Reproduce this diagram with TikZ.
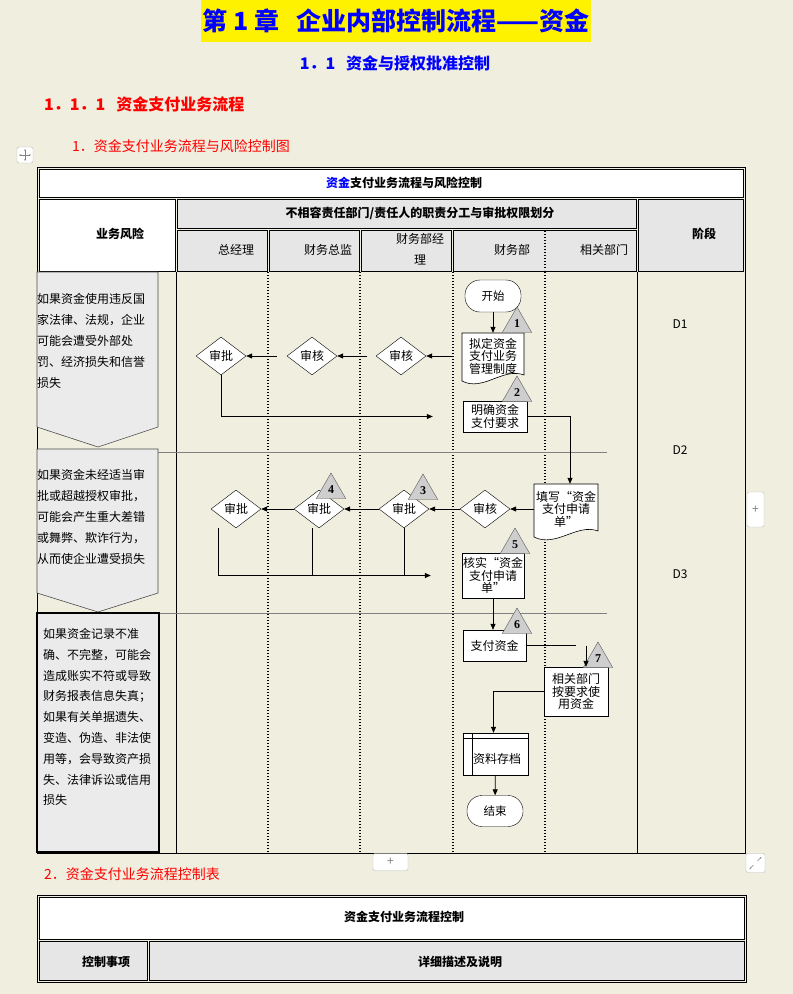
\documentclass[tikz,border=0pt]{standalone}
\usepackage{fontspec}
\setmainfont{Noto Sans CJK SC}
\newfontfamily\numfont{Liberation Serif}
\usepackage{xcolor}
\usepackage{tikz}
\usetikzlibrary{positioning, shapes.geometric, arrows.meta, backgrounds}

\definecolor{paper}{RGB}{239,238,223}
\definecolor{cellgray}{RGB}{230,230,230}
\definecolor{riskgray}{RGB}{235,235,235}
\definecolor{trigray}{RGB}{206,206,206}

\begin{document}
\begin{tikzpicture}[x=1pt, y=-1pt, every node/.style={inner sep=0pt},
    arr/.style={-{Triangle[length=6pt,width=5pt]}, line width=0.7pt},
    lane/.style={line width=1.3pt, dash pattern=on 1.3pt off 1.7pt},
    graycell/.style={draw, line width=0.6pt, fill=cellgray},
    whitecell/.style={draw, line width=0.6pt, fill=white},
    dia/.style={draw, diamond, aspect=1.3, fill=white, minimum width=50pt, minimum height=38pt, font=\fontsize{12}{12}\selectfont},
    procbox/.style={draw, rectangle, fill=white, align=center, font=\fontsize{12}{12.5}\selectfont},
    docbox/.style={rectangle, align=center, font=\fontsize{12}{12.5}\selectfont},
    term/.style={draw, rectangle, rounded corners=15pt, fill=white, minimum width=56pt, minimum height=32pt, font=\fontsize{11.5}{11.5}\selectfont},
    tri/.style={draw=gray!70!black, fill=trigray, regular polygon, regular polygon sides=3, minimum size=34pt, font=\numfont\bfseries\fontsize{12}{12}\selectfont},
    risk/.style={draw=gray!60!black, fill=riskgray, line width=0.6pt},
    risktext/.style={anchor=north west, align=left, font=\fontsize{12}{21}\selectfont},
    hd/.style={font=\bfseries\fontsize{12}{12}\selectfont},
    subhd/.style={font=\fontsize{12}{21}\selectfont, align=center},
    rowline/.style={gray, line width=0.6pt},
    uibtn/.style={draw=gray!55, fill=white, rounded corners=2pt, text=gray, font=\fontsize{12}{12}\selectfont}]

  \useasboundingbox (0,0) rectangle (793,994);
  \fill[paper] (0,0) rectangle (793,994);

  % headings
  \fill[yellow] (201,0) rectangle (591,42);
  \node[text=blue, font=\bfseries\fontsize{25}{25}\selectfont] (chap) at (396,21) {第 1 章\ \ \ 企业内部控制流程——资金};
  \node[text=blue, font=\bfseries\fontsize{16}{16}\selectfont] (sec) at (395,63) {1．1\ \ \ 资金与授权批准控制};
  \node[anchor=west, text=red, font=\bfseries\fontsize{16}{16}\selectfont] (subsec) at (44,104) {1．1．1\ \ \ 资金支付业务流程};
  \node[anchor=west, text=red, font=\fontsize{14}{14}\selectfont] (fig1) at (72,146) {1．资金支付业务流程与风险控制图};
  \node[uibtn, minimum width=16pt, minimum height=16pt] (movebtn) at (25,155) {};
  \draw[gray, {Stealth[length=2pt]}-{Stealth[length=2pt]}, line width=0.4pt] ([xshift=-6pt]movebtn.center) -- ([xshift=6pt]movebtn.center);
  \draw[gray, {Stealth[length=2pt]}-{Stealth[length=2pt]}, line width=0.4pt] ([yshift=-6pt]movebtn.center) -- ([yshift=6pt]movebtn.center);

  % table frame and header
  \draw[line width=0.8pt] (37,167) rectangle (745,853);
  \draw[whitecell] (39,169) rectangle (743,197);
  \node[hd] (ttl) at (404,183) {\textcolor{blue}{资金}支付业务流程与风险控制};
  \draw[whitecell] (39,199) rectangle (175,271);
  \draw[graycell] (177,199) rectangle (636,228);
  \draw[graycell] (177,230) rectangle (267,271);
  \draw[graycell] (269,230) rectangle (359,271);
  \draw[graycell] (361,230) rectangle (451,271);
  \draw[graycell] (453,230) rectangle (636,271);
  \draw[graycell] (638,199) rectangle (743,271);
  \draw[lane] (545,231) -- (545,270);
  \node[hd] (risk) at (120,234) {业务风险};
  \node[hd] (duty) at (420,213) {不相容责任部门/责任人的职责分工与审批权限划分};
  \node[hd] (phase) at (704,234) {阶段};
  \node[subhd] (gm) at (236,250) {总经理};
  \node[subhd] (cfo) at (328,250) {财务总监};
  \node[subhd] (fm) at (420,249.5) {财务部经\\理};
  \node[subhd] (fd) at (512,250) {财务部};
  \node[subhd] (rd) at (604,250) {相关部门};

  % lanes
  \draw[line width=0.7pt] (176,272) -- (176,853);
  \draw[line width=0.7pt] (637,272) -- (637,853);
  \foreach \x in {268,360,453,545}
    \draw[lane] (\x,272) -- (\x,853);
  \draw[rowline] (158,452) -- (607,452);
  \draw[rowline] (159,613) -- (607,613);

  % risks
  \draw[risk] (37,272) -- (158,272) -- (158,427) -- (98,447) -- (37,427) -- cycle;
  \draw[risk] (37,449) -- (158,449) -- (158,593) -- (98,612) -- (37,593) -- cycle;
  \draw[fill=riskgray, line width=1.2pt] (37,613) rectangle (159,852);
  \node[risktext] (r1) at (37,293) {如果资金使用违反国\\家法律、法规，企业\\可能会遭受外部处\\罚、经济损失和信誉\\损失};
  \node[risktext] (r2) at (37,469) {如果资金未经适当审\\批或超越授权审批，\\可能会产生重大差错\\或舞弊、欺诈行为，\\从而使企业遭受损失};
  \node[risktext, font=\fontsize{12}{20.8}\selectfont] (r3) at (43,628) {如果资金记录不准\\确、不完整，可能会\\造成账实不符或导致\\财务报表信息失真；\\如果有关单据遗失、\\变造、伪造、非法使\\用等，会导致资产损\\失、法律诉讼或信用\\损失};

  % phases
  \node[font=\fontsize{12}{12}\selectfont] (d1) at (680,324) {D1};
  \node[font=\fontsize{12}{12}\selectfont] (d2) at (680,450) {D2};
  \node[font=\fontsize{12}{12}\selectfont] (d3) at (680,574) {D3};

  % flow D1
  \node[term] (start) at (493,296) {开始};
  \draw[fill=white, line width=0.6pt] (462,333) -- (524,333) -- (524,375) .. controls (503,367) and (483,392) .. (462,381) -- cycle;
  \node[docbox, minimum width=62pt, minimum height=46pt] (nd) at (493,356) {拟定资金\\支付业务\\管理制度};
  \node[procbox, minimum width=64pt, minimum height=31pt] (mq) at (495,416.5) {明确资金\\支付要求};
  \node[dia] (sh1) at (401,356) {审核};
  \node[dia] (sh2) at (312,356) {审核};
  \node[dia] (sp1) at (221,356) {审批};
  \node[tri] (t1) at (517,324) {1};
  \node[tri] (t2) at (517,393) {2};

  \draw[arr] (start) -- (nd);
  \draw[arr, shorten <=9pt] (nd.west) -- (sh1.east);
  \draw[arr, shorten <=9pt] (sh1.west) -- (sh2.east);
  \draw[arr, shorten <=10pt] (sh2.west) -- (sp1.east);
  \draw[arr, shorten >=30pt] (sp1.south) |- (mq.west);

  % flow D2
  \draw[fill=white, line width=0.6pt] (534,484) -- (598,484) -- (598,531) .. controls (577,523) and (556,548) .. (534,537) -- cycle;
  \node[docbox, minimum width=64pt, minimum height=50pt] (tx) at (566,509) {填写“资金\\支付申请\\单”};
  \node[dia] (sh3) at (485,509) {审核};
  \node[dia] (sp2) at (404,509) {审批};
  \node[dia] (sp3) at (319,509) {审批};
  \node[dia] (sp4) at (236,509) {审批};
  \node[procbox, minimum width=62pt, minimum height=45pt] (hs) at (493,575.5) {核实“资金\\支付申请\\单”};
  \node[tri] (t3) at (423,491) {3};
  \node[tri] (t4) at (331,490) {4};
  \node[tri] (t5) at (515,545) {5};

  \draw[arr] (mq.east) -| ([xshift=4pt]tx.north);
  \draw[arr] (tx.west) -- (sh3.east);
  \draw[arr] (sh3.west) -- (sp2.east);
  \draw[arr] (sp2.west) -- (sp3.east);
  \draw[arr] (sp3.west) -- (sp4.east);
  \draw[arr, shorten >=31pt] ([xshift=-18pt]sp4.south) |- (hs.west);
  \draw[line width=0.7pt] ([xshift=-7pt]sp3.south) -- ([xshift=-7pt]sp3.south |- hs.west);
  \draw[line width=0.7pt] (sp2.south) -- (sp2.south |- hs.west);

  % flow D3
  \node[procbox, minimum width=63pt, minimum height=31pt] (zf) at (494.5,645.5) {支付资金};
  \node[procbox, minimum width=64pt, minimum height=49pt] (xg) at (576,691.5) {相关部门\\按要求使\\用资金};
  \node[procbox, minimum width=65pt, minimum height=42pt] (zl) at (495.5,754) {};
  \draw[line width=0.6pt] ([yshift=-5pt]zl.north west) -- ([yshift=-5pt]zl.north east);
  \draw[line width=0.6pt] ([xshift=9pt]zl.north west) -- ([xshift=9pt]zl.south west);
  \node[font=\fontsize{12}{12}\selectfont] (zltext) at (497,759) {资料存档};
  \node[term, minimum height=31pt] (stop) at (495,811) {结束};
  \node[tri] (t6) at (517,625) {6};
  \node[tri] (t7) at (598,659) {7};
  \coordinate (c7) at (586,645.5);

  \draw[arr] (hs.south) -- (hs.south |- zf.north);
  \draw[line width=0.7pt, shorten >=10pt] (zf.east) -- (c7);
  \draw[arr] (c7) -- (c7 |- xg.north);
  \draw[arr] (xg.west) -| ([xshift=-2pt]zl.north);
  \draw[arr] (zl) -- (stop);

  \node[uibtn, minimum width=17pt, minimum height=35pt] (addcol) at (755.5,509.5) {+};
  \node[uibtn, minimum width=35pt, minimum height=17pt] (addrow) at (390.5,862) {+};
  \node[uibtn, minimum width=19pt, minimum height=19pt] (resizebtn) at (755.5,863) {};
  \draw[gray, -{Stealth[length=2pt]}, line width=0.4pt] ([shift={(-2pt,-2pt)}]resizebtn.center) -- ([shift={(-6pt,-6pt)}]resizebtn.center);
  \draw[gray, -{Stealth[length=2pt]}, line width=0.4pt] ([shift={(2pt,2pt)}]resizebtn.center) -- ([shift={(6pt,6pt)}]resizebtn.center);

  % control table
  \node[anchor=west, text=red, font=\fontsize{14}{14}\selectfont] (fig2) at (44,874) {2．资金支付业务流程控制表};
  \draw[line width=0.8pt] (37,895) rectangle (746,982);
  \draw[whitecell] (39,897) rectangle (744,939);
  \draw[graycell] (39,941) rectangle (147,980);
  \draw[graycell] (149,941) rectangle (744,980);
  \node[hd] (ctitle) at (404,917) {资金支付业务流程控制};
  \node[hd] (citem) at (106,962) {控制事项};
  \node[hd] (cdesc) at (460,962) {详细描述及说明};
\end{tikzpicture}
\end{document}
